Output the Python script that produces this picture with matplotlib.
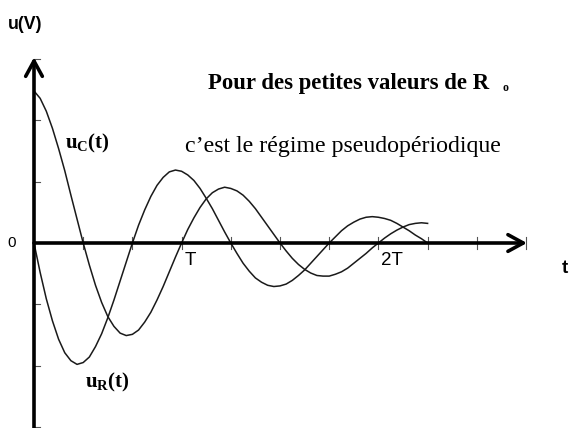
import numpy as np
import matplotlib
matplotlib.use('Agg')
import matplotlib.pyplot as plt

plt.rcParams['mathtext.fontset'] = 'custom'
plt.rcParams['mathtext.rm'] = 'Liberation Serif'
plt.rcParams['mathtext.bf'] = 'Liberation Serif:bold'

#=============== data (time in tick units, voltage in grid units) ===============
t = [0.0, 0.125, 0.25, 0.375, 0.5, 0.625, 0.75, 0.875,
     1.0, 1.125, 1.25, 1.375, 1.5, 1.625, 1.75, 1.875,
     2.0, 2.125, 2.25, 2.375, 2.5, 2.625, 2.75, 2.875,
     3.0, 3.125, 3.25, 3.375, 3.5, 3.625, 3.75, 3.875,
     4.0, 4.125, 4.25, 4.375, 4.5, 4.625, 4.75, 4.875,
     5.0, 5.125, 5.25, 5.375, 5.5, 5.625, 5.75, 5.875,
     6.0, 6.125, 6.25, 6.375, 6.5, 6.625, 6.75, 6.875,
     7.0, 7.125, 7.25, 7.375, 7.5, 7.625, 7.75, 7.875,
     8.0]

u_C = [2.48, 2.36, 2.15, 1.87, 1.54, 1.18, 0.78, 0.39,
       0.0, -0.36, -0.69, -0.97, -1.20, -1.36, -1.47, -1.51,
       -1.49, -1.42, -1.29, -1.13, -0.93, -0.71, -0.47, -0.23,
       0.0, 0.22, 0.41, 0.58, 0.72, 0.82, 0.88, 0.91,
       0.89, 0.85, 0.78, 0.68, 0.56, 0.42, 0.28, 0.14,
       0.0, -0.13, -0.25, -0.35, -0.43, -0.49, -0.53, -0.54,
       -0.54, -0.51, -0.47, -0.41, -0.33, -0.25, -0.17, -0.08,
       0.0, 0.08, 0.15, 0.21, 0.26, 0.30, 0.32, 0.33,
       0.32]

u_R = [0.0, -0.48, -0.91, -1.27, -1.57, -1.79, -1.92, -1.98,
       -1.95, -1.86, -1.69, -1.48, -1.22, -0.93, -0.62, -0.31,
       0.0, 0.29, 0.54, 0.76, 0.94, 1.07, 1.16, 1.19,
       1.17, 1.11, 1.02, 0.89, 0.73, 0.56, 0.37, 0.18,
       0.0, -0.17, -0.33, -0.46, -0.57, -0.64, -0.69, -0.71,
       -0.70, -0.67, -0.61, -0.53, -0.44, -0.33, -0.22, -0.11,
       0.0, 0.10, 0.20, 0.28, 0.34, 0.39, 0.42, 0.43,
       0.42, 0.40, 0.37, 0.32, 0.26, 0.20, 0.13, 0.07,
       0.0]

x_ticks = [1, 2, 3, 4, 5, 6, 7, 8, 9, 10]
y_ticks = [-3, -2, -1, 1, 2, 3]
x_tick_labels = {3: 'T', 7: '2T'}

#=============== figure ===============
fig = plt.figure(figsize=(5.71, 4.28), dpi=100)
ax = fig.add_axes([0, 0, 1, 1])
# 1 tick = 49.2 px, 1 grid unit = 61.3 px, origin at (34, 243) px
ax.set_xlim(-34 / 49.2, (571 - 34) / 49.2)
ax.set_ylim((243 - 428) / 61.3, 243 / 61.3)
ax.axis('off')

# tick marks
for xt in x_ticks:
    ax.plot([xt, xt], [-0.1, 0.1], color='#555555', lw=0.8)
for yt in y_ticks:
    ax.plot([0, 0.12], [yt, yt], color='#555555', lw=0.8)

# curves
ax.plot(t, u_C, color='#1a1a1a', lw=1.1)
ax.plot(t, u_R, color='#1a1a1a', lw=1.1)

# axes with arrows
arrow = dict(arrowstyle='->,head_length=1.1,head_width=0.6', lw=2.6,
             color='black', shrinkA=0, shrinkB=0)
ax.annotate('', xy=(10.02, 0), xytext=(0, 0), arrowprops=arrow)
ax.annotate('', xy=(0, 3.03), xytext=(0, -3.2), arrowprops=arrow)

# labels
sans = 'Liberation Sans'
serif = 'Liberation Serif'
ax.text(-0.54, 3.57, 'u(V)', family=sans, weight='bold', fontsize=12.8,
        ha='left', va='center')
ax.text(-0.45, 0.0, '0', family=sans, fontsize=11, ha='center', va='center')
for xt, lab in x_tick_labels.items():
    ax.text(xt + 0.06, -0.14, lab, family=sans, fontsize=13.5, ha='left', va='top')
ax.text(10.8, -0.42, 't', family=sans, weight='bold', fontsize=13.5,
        ha='center', va='center')

ax.text(3.53, 2.51, 'Pour des petites valeurs de R', family=serif,
        weight='bold', fontsize=16.4, ha='left', va='baseline')
ax.text(9.52, 2.53, 'o', family=serif, weight='bold', fontsize=8.5,
        ha='left', va='center')
ax.text(3.07, 1.48, 'c\u2019est le régime pseudopériodique', family=serif,
        fontsize=17.2, ha='left', va='baseline')

ax.text(0.63, 1.63, r'$\mathbf{u_C(t)}$', fontsize=15, ha='left', va='center')
ax.text(1.04, -2.27, r'$\mathbf{u_R(t)}$', fontsize=15, ha='left', va='center')

fig.savefig('out.png', dpi=100)
